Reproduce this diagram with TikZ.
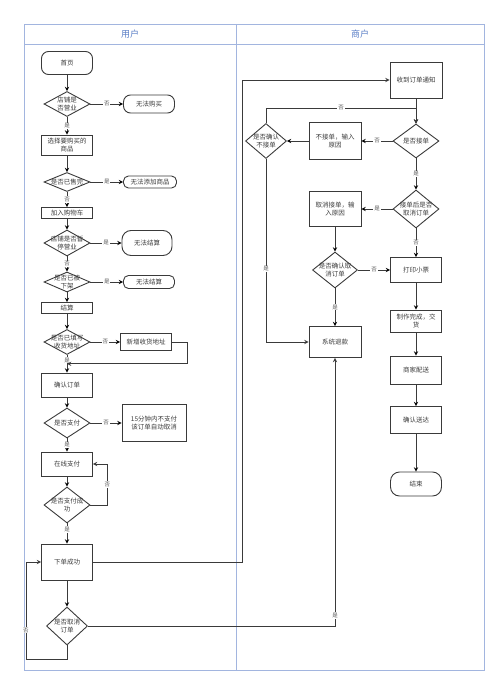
\documentclass[tikz,border=0pt]{standalone}
\usepackage{fontspec}
\setmainfont{Noto Sans CJK SC}
\usetikzlibrary{shapes.geometric, arrows.meta, positioning, calc}

\definecolor{lane}{HTML}{A2B5DF}
\definecolor{lanetext}{HTML}{5A7EC6}
\definecolor{ink}{HTML}{3A3A3A}

% text inside a diamond, so that the diamond keeps its own size
\newcommand{\dtext}[1]{\makebox[0pt]{\raisebox{-2.5pt}[0pt][0pt]{\begin{tabular}{@{}c@{}}#1\end{tabular}}}}

\tikzset{
  wh/.style 2 args = {minimum width=#1pt, minimum height=#2pt},
  base/.style = {draw=ink, line width=0.9pt, text=ink, inner sep=1pt, align=center},
  term/.style = {base, rounded corners=7pt},
  proc/.style = {base, rectangle},
  decision/.style = {base, diamond, inner sep=0pt},
  lbl/.style = {fill=white, inner sep=0.8pt, text=ink!85, font=\fontsize{5.5}{6}\selectfont},
  flow/.style = {draw=ink, line width=0.9pt, -stealth},
  lanes/.style = {draw=lane, line width=0.8pt},
}

\begin{document}
\begin{tikzpicture}[x=1pt, y=-1pt, on grid, font=\fontsize{6.5}{8}\selectfont]
   \useasboundingbox (0,0) rectangle (500,687);

   % swimlanes
   \draw[lanes] (24,24) rectangle (484,670);
   \draw[lanes] (24,44) -- (484,44);
   \draw[lanes] (236,24) -- (236,670);
   \node (hUser)[text=lanetext, font=\fontsize{9}{10}\selectfont] at (130,34) {用户};
   \node (hShop)[text=lanetext, font=\fontsize{9}{10}\selectfont] at (360,34) {商户};

   % user lane
   \node (home)[term, wh={51}{23}] at (67,63) {首页};
   \node (d1)[decision, wh={46}{25}, below = 41pt of home] {\dtext{店铺是\\否营业}};
   \node (nobuy)[term, wh={51}{18}, right = 82pt of d1] {无法购买};
   \node (choose)[proc, wh={51}{20}, below = 41pt of d1] {选择要购买的\\商品};
   \node (d2)[decision, wh={46}{19}, below = 37pt of choose] {\dtext{是否已售完}};
   \node (noadd)[term, rounded corners=5pt, wh={53}{12}, right = 83pt of d2] {无法添加商品};
   \node (cart)[proc, wh={51}{11}, below = 31pt of d2] {加入购物车};
   \node (d3)[decision, wh={46}{26}, below = 30pt of cart] {\dtext{店铺是否暂\\停营业}};
   \node (nopay1)[term, rounded corners=9pt, wh={50}{25}, right = 80pt of d3] {无法结算};
   \node (d4)[decision, wh={46}{20}, below = 39pt of d3] {\dtext{是否已被\\下架}};
   \node (nopay2)[term, rounded corners=5pt, wh={51}{13}, right = 82pt of d4] {无法结算};
   \node (settle)[proc, wh={51}{11}, below = 26pt of d4] {结算};
   \node (d5)[decision, wh={46}{25}, below = 34pt of settle] {\dtext{是否已填写\\收货地址}};
   \node (addaddr)[proc, wh={51}{17}, right = 79pt of d5] {新增收货地址};
   \node (confirm)[proc, wh={51}{24}, below = 43pt of d5] {确认订单};
   \node (d6)[decision, wh={46}{30}, below = 38pt of confirm] {\dtext{是否支付}};
   \node (autocancel)[proc, wh={64}{37}, right = 87pt of d6] {15分钟内不支付\\该订单自动取消};
   \node (online)[proc, wh={51}{24}, below = 41pt of d6] {在线支付};
   \node (d7)[decision, wh={46}{36}, below = 41pt of online] {\dtext{是否支付成\\功}};
   \node (success)[proc, wh={51}{36}, below = 57pt of d7] {下单成功};
   \node (d8)[decision, wh={41}{38}, below = 64pt of success] {\dtext{是否取消\\订单}};

   % shop lane
   \node (notify)[proc, wh={52}{36}] at (416,80) {收到订单通知};
   \node (r1)[decision, wh={46}{34}, below = 61pt of notify] {\dtext{是否接单}};
   \node (refuse)[proc, wh={52}{37}, left = 81pt of r1] {不接单，输入\\原因};
   \node (r2)[decision, wh={41}{35}, left = 69pt of refuse] {\dtext{是否确认\\不接单}};
   \node (r3)[decision, wh={46}{38}, below = 68pt of r1] {\dtext{接单后是否\\取消订单}};
   \node (cancel)[proc, wh={52}{35}, left = 81pt of r3] {取消接单，输\\入原因};
   \node (r4)[decision, wh={45}{36}, below = 61pt of cancel] {\dtext{是否确认取\\消订单}};
   \node (print)[proc, wh={51}{25}, below = 61pt of r3] {打印小票};
   \node (refund)[proc, wh={52}{31}, below = 72pt of r4] {系统退款};
   \node (make)[proc, wh={51}{22}, below = 51pt of print] {制作完成，交\\货};
   \node (deliver)[proc, wh={51}{28}, below = 49pt of make] {商家配送};
   \node (arrive)[proc, wh={51}{27}, below = 50pt of deliver] {确认送达};
   \node (end)[term, rounded corners=9pt, wh={51}{24}, below = 64pt of arrive] {结束};

   \coordinate (join) at ($(d5.south)!0.5!(confirm.north)$);
   \coordinate (merge) at ($(notify.south)!0.38!(r1.north)$);

   % user flow
   \path[flow](home) edge (d1);
   \path[flow](d1) edge node[lbl]{否} (nobuy);
   \path[flow](d1) edge node[lbl]{是} (choose);
   \path[flow](choose) edge (d2);
   \path[flow](d2) edge node[lbl]{是} (noadd);
   \path[flow](d2) edge node[lbl]{否} (cart);
   \path[flow](cart) edge (d3);
   \path[flow](d3) edge node[lbl]{是} (nopay1);
   \path[flow](d3) edge node[lbl]{否} (d4);
   \path[flow](d4) edge node[lbl]{是} (nopay2);
   \path[flow](d4) edge (settle);
   \path[flow](settle) edge (d5);
   \path[flow](d5) edge node[lbl]{否} (addaddr);
   \path[flow](d5) edge node[lbl, pos=0.3]{是} (confirm);
   \draw[flow](addaddr.east) -- ++(15,0) |- (join);
   \path[flow](confirm) edge (d6);
   \path[flow](d6) edge node[lbl]{否} (autocancel);
   \path[flow](d6) edge node[lbl]{是} (online);
   \path[flow](online) edge (d7);
   \draw[flow](d7.east) -- ++(17,0) |- node[lbl, pos=0.25]{否} (online.east);
   \path[flow](d7) edge node[lbl, pos=0.3]{是} (success);
   \path[flow](success) edge (d8);
   \draw[flow](success.east) -- ++(149,0) |- (notify.west);
   \draw[flow](d8.east) -| node[lbl, pos=0.52]{是} (refund.south);
   \draw[flow](d8.south) -- ++(0,14) -- ++(-41,0) |- node[lbl, pos=0.15]{否} (success.west);

   % shop flow
   \path[flow](notify) edge (r1);
   \path[flow](r1) edge node[lbl]{否} (refuse);
   \path[flow](refuse) edge (r2);
   \draw[flow](r2.north) |- node[lbl, pos=0.75]{否} (merge) -- (r1.north);
   \draw[flow](r2.south) |- node[lbl, pos=0.3]{是} (refund.west);
   \path[flow](r1) edge node[lbl]{是} (r3);
   \path[flow](r3) edge node[lbl]{是} (cancel);
   \path[flow](r3) edge node[lbl]{否} (print);
   \path[flow](cancel) edge (r4);
   \path[flow](r4) edge node[lbl]{否} (print);
   \path[flow](r4) edge node[lbl]{是} (refund);
   \path[flow](print) edge (make);
   \path[flow](make) edge (deliver);
   \path[flow](deliver) edge (arrive);
   \path[flow](arrive) edge (end);
\end{tikzpicture}
\end{document}
